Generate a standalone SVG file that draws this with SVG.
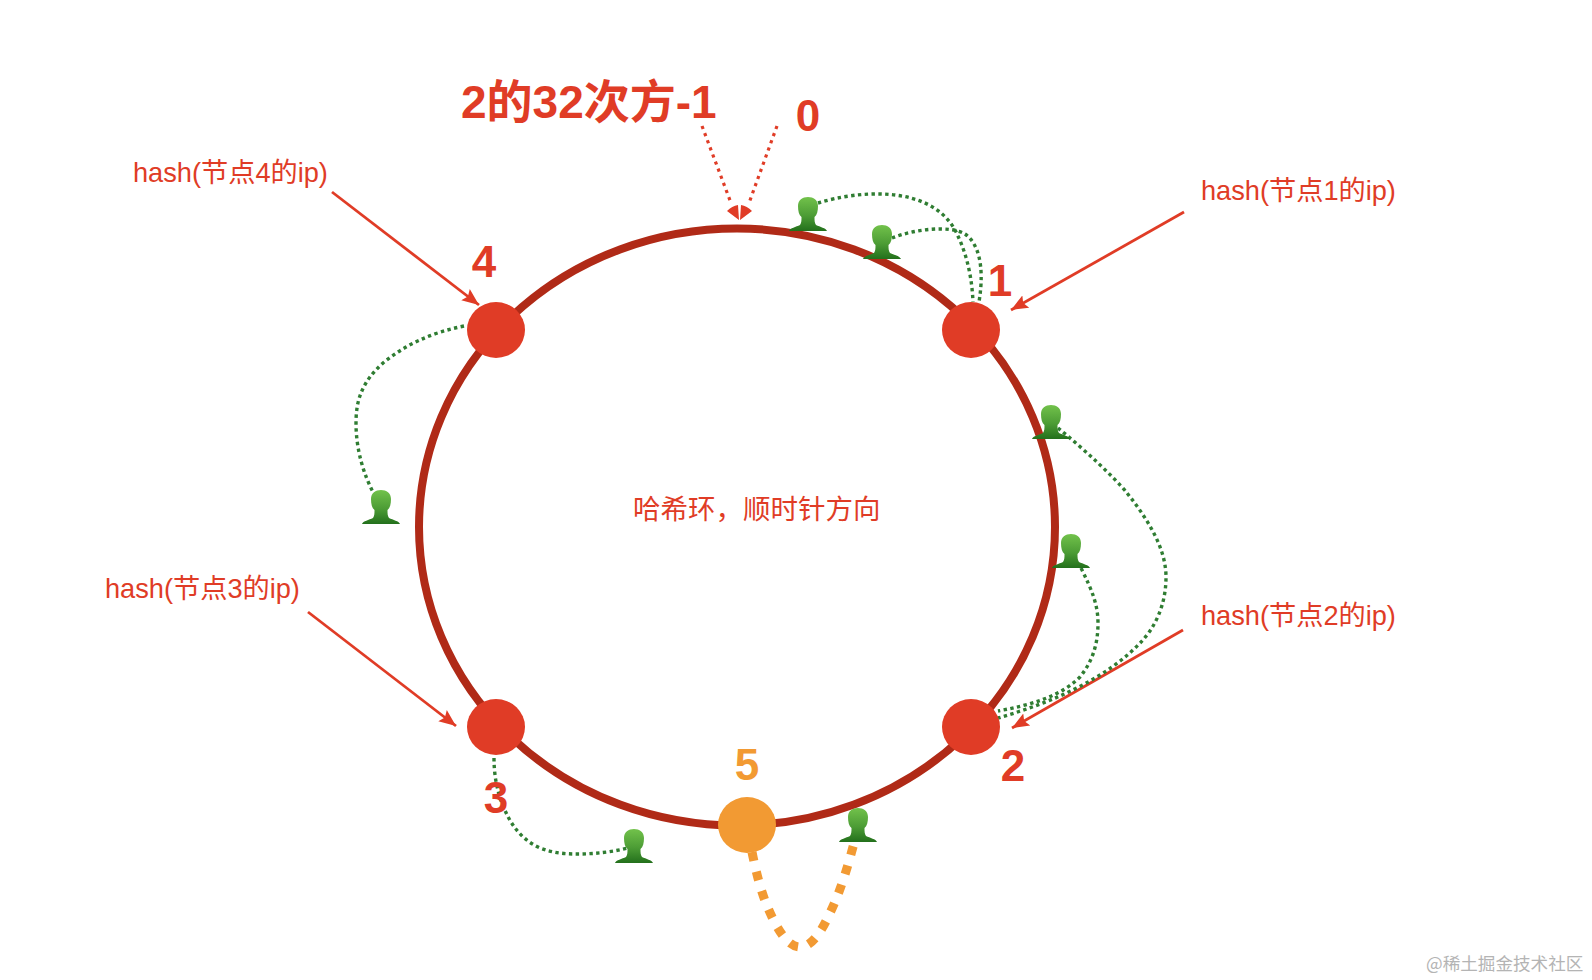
<svg xmlns="http://www.w3.org/2000/svg" width="1592" height="980" viewBox="0 0 1592 980">
<style>
text{font-family:"Liberation Sans","Noto Sans CJK SC",sans-serif;fill:#e03c26}
.t{font-size:46px;font-weight:700}
.n{font-size:44px;font-weight:700}
.o{fill:#f29a33}
.h{font-size:27.2px}
.c{font-size:27.5px}
.w{font-size:17.6px;fill:#b4b4b4;font-family:"Noto Sans CJK SC",sans-serif}
.dot{fill:#e03c26}
.or{fill:#f29a33}
.g{fill:none;stroke:#2f7d32;stroke-width:3.400;stroke-dasharray:3.400 3.400}
.r{fill:none;stroke:#e03c26;stroke-width:2.800}
.rd{fill:none;stroke:#e03c26;stroke-width:3.200;stroke-dasharray:3.200 4.400}
.od{fill:none;stroke:#f29a33;stroke-width:9;stroke-dasharray:9 11}
</style>
<defs>
<linearGradient id="pg" x1="0" y1="0" x2="0" y2="1"><stop offset="0" stop-color="#72c24b"/><stop offset="0.55" stop-color="#4c9c35"/><stop offset="1" stop-color="#23701c"/></linearGradient>
<path id="person" fill="url(#pg)" d="M-19 0C-18-3-12-4-8-6C-6.500-8-6.500-11-6.500-14C-9-16-10-20-10-25C-10-31-5.500-34 0-34C5.500-34 10-31 10-25C10-20 9-16 6.500-14C6.500-11 6.500-8 8-6C12-4 18-3 19 0Z"/>
<marker id="ah" markerUnits="userSpaceOnUse" markerWidth="20" markerHeight="16" refX="17" refY="8" orient="auto"><path d="M0 1L17 8L0 15L3 8Z" fill="#e03c26"/></marker>
</defs>
<rect width="1592" height="980" fill="#fff"/>
<g id="ring"><ellipse cx="737" cy="527" rx="318" ry="298.500" fill="none" stroke="#b02a17" stroke-width="8"/></g>
<g id="connectors">
<path class="r" marker-end="url(#ah)" d="M332 192L479 305"/>
<path class="r" marker-end="url(#ah)" d="M1184 212L1011 310"/>
<path class="r" marker-end="url(#ah)" d="M1183 630L1012 728"/>
<path class="r" marker-end="url(#ah)" d="M308 612L456 726"/>
<path class="rd" d="M702 126L731 203"/>
<path class="rd" d="M777 126L749 203"/>
<path class="dot" d="M727 211Q732 206 738 205L739 220ZM752 211Q747 206 741 205L740 220Z"/>
<path class="g" d="M818 203C860 190 930 185 955 230C968 255 972 280 973 302"/>
<path class="g" d="M892 238C915 229 950 225 965 234C978 243 985 265 979 302"/>
<path class="g" d="M1058 428C1085 450 1115 478 1127 493C1150 522 1166 550 1166 577C1166 605 1155 628 1140 643C1105 680 1050 703 998 718"/>
<path class="g" d="M1081 568C1092 590 1098 605 1098 623C1098 645 1092 662 1080 677C1060 697 1030 705 998 711"/>
<path class="g" d="M464 326C430 333 405 345 383 363C362 382 356 400 356 423C356 450 364 475 373 492"/>
<path class="g" d="M494 758C494 775 497 790 502 803C510 825 522 840 540 848C553 853 565 854 577 854C595 854 612 852 628 848"/>
<path class="od" d="M752 852C756 872 761 892 768 908C776 927 787 947 800 947C812 947 822 930 829 915C840 893 848 866 854 843"/>
</g>
<g id="node-1"><ellipse cx="971" cy="330" rx="29" ry="28" class="dot"/><text class="n" x="1000" y="296" text-anchor="middle">1</text></g>
<g id="node-2"><ellipse cx="971" cy="727" rx="29" ry="28" class="dot"/><text class="n" x="1013" y="781" text-anchor="middle">2</text></g>
<g id="node-3"><ellipse cx="496" cy="727" rx="29" ry="28" class="dot"/><text class="n" x="496" y="813" text-anchor="middle">3</text></g>
<g id="node-4"><ellipse cx="496" cy="330" rx="29" ry="28" class="dot"/><text class="n" x="484" y="277" text-anchor="middle">4</text></g>
<g id="node-5"><ellipse cx="747" cy="825" rx="29" ry="28" class="or"/><text class="n o" x="747" y="780" text-anchor="middle">5</text></g>
<g id="users">
<use id="user-1" href="#person" x="808" y="231"/>
<use id="user-2" href="#person" x="882" y="259"/>
<use id="user-3" href="#person" x="1051" y="439"/>
<use id="user-4" href="#person" x="1071" y="568"/>
<use id="user-5" href="#person" x="858" y="842"/>
<use id="user-6" href="#person" x="634" y="863"/>
<use id="user-7" href="#person" x="381" y="524"/>
</g>
<g id="labels">
<text class="t" x="461" y="118">2的32次方-1</text>
<text class="n" x="808" y="131" text-anchor="middle">0</text>
<text class="h" x="133" y="182">hash(节点4的ip)</text>
<text class="h" x="1201" y="200">hash(节点1的ip)</text>
<text class="h" x="1201" y="625">hash(节点2的ip)</text>
<text class="h" x="105" y="598">hash(节点3的ip)</text>
<text class="c" x="633" y="519">哈希环&#xFF0C;顺时针方向</text>
<text class="w" x="1426" y="970">@稀土掘金技术社区</text>
</g>
</svg>
